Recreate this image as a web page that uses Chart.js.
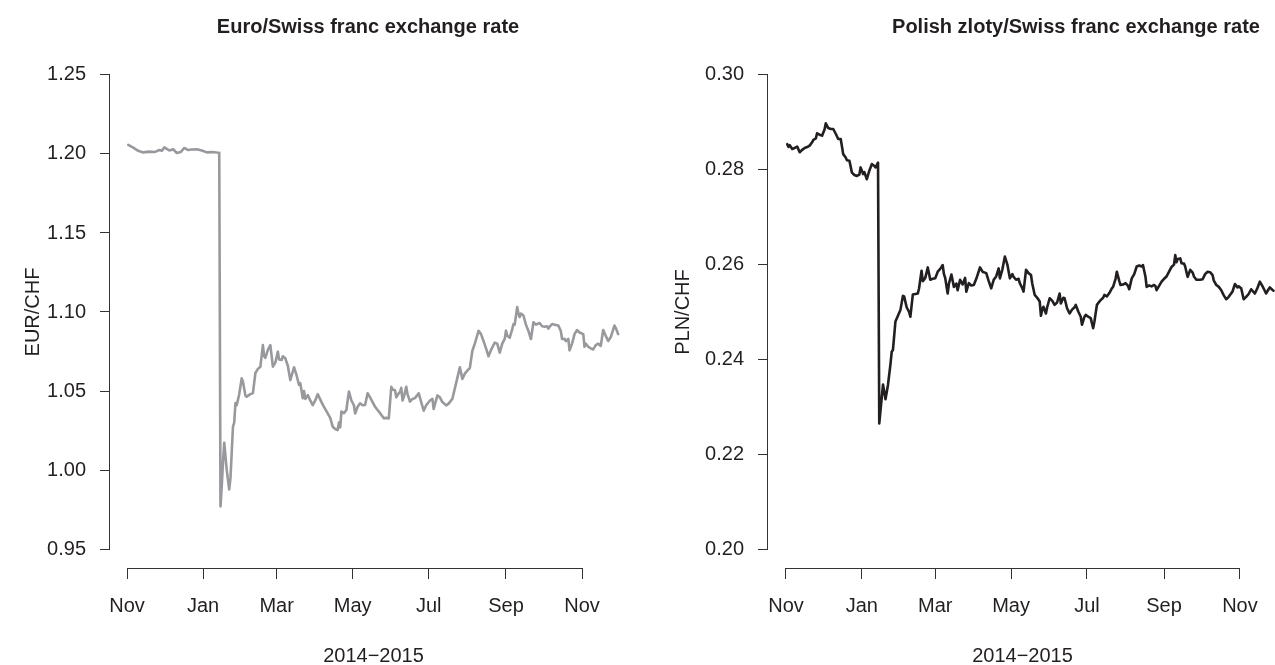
<!DOCTYPE html>
<html>
<head>
<meta charset="utf-8">
<script src="https://cdn.jsdelivr.net/npm/chart.js@4.4.0/dist/chart.umd.min.js"></script>
<style>
html,body{margin:0;padding:0;background:#fff;overflow:hidden;}
#wrap{position:relative;width:1275px;height:665px;overflow:hidden;}
canvas{position:absolute;top:0;}
</style>
</head>
<body>
<div id="wrap">
<canvas id="c1" width="640" height="665" style="left:0"></canvas>
<canvas id="c2" width="640" height="665" style="left:640px"></canvas>
</div>
<script>
// ---- data ----
// x values: days since 1 Nov 2014
const xTickDates = ['2014-11-01','2015-01-01','2015-03-01','2015-05-01','2015-07-01','2015-09-01','2015-11-01'];
const xTickLabels = ['Nov','Jan','Mar','May','Jul','Sep','Nov'];
const xTitle = '2014\u22122015';

const eurTitle = 'Euro/Swiss franc exchange rate';
const eurAxisTitle = 'EUR/CHF';
const eurTicks = [0.95, 1.00, 1.05, 1.10, 1.15, 1.20, 1.25];
const eurDays = [1,5,9,13,18,22,26,28,30,34,37,40,43,46,49,52,56,60,64,68,72,74,
  75,76,77,78,80,82,83,85,86,87,88,90,92,93,95,96,99,101,103,105,107,109,110,111,113,115,117,119,121,122,124,125,127,129,131,134,136,138,139,141,142,143,145,147,149,151,153,156,158,161,163,165,167,169,170,171,172,174,176,177,178,180,182,183,185,187,189,191,193,195,197,199,201,203,206,208,210,212,213,215,216,218,219,220,221,222,224,225,227,229,231,234,236,238,240,243,245,246,249,251,253,256,258,261,264,267,269,271,273,275,277,279,282,284,286,288,290,292,295,297,299,301,303,304,305,307,309,310,311,313,314,315,316,318,320,322,324,325,326,328,329,331,333,335,337,338,339,341,343,346,348,349,351,352,354,355,357,359,361,363,366,367,368,370,372,374,376,378,380,382,384,386,388,391,392,394];
const eurValues = [1.2057,1.2040,1.2020,1.2010,1.2015,1.2012,1.2025,1.2020,1.2042,1.2022,1.2030,1.2006,1.2012,1.2038,1.2025,1.2028,1.2030,1.2022,1.2010,1.2012,1.2009,1.2008,
  0.977,0.990,1.005,1.0173,1.000,0.9877,0.995,1.0274,1.030,1.0424,1.041,1.048,1.058,1.056,1.047,1.0464,1.048,1.0487,1.0614,1.064,1.0654,1.0791,1.072,1.071,1.076,1.079,1.0654,1.068,1.0749,1.070,1.0696,1.072,1.0707,1.066,1.0569,1.065,1.060,1.0538,1.055,1.0454,1.050,1.045,1.0474,1.044,1.0411,1.044,1.048,1.043,1.040,1.0358,1.033,1.0274,1.026,1.0253,1.030,1.027,1.037,1.036,1.038,1.044,1.0496,1.044,1.041,1.0358,1.040,1.0422,1.041,1.0411,1.0486,1.046,1.043,1.040,1.038,1.036,1.0327,1.033,1.0327,1.0527,1.051,1.0505,1.046,1.0486,1.0493,1.052,1.044,1.046,1.0527,1.048,1.0433,1.045,1.0455,1.0486,1.043,1.0376,1.041,1.044,1.045,1.0386,1.0472,1.046,1.043,1.0409,1.042,1.0451,1.055,1.065,1.0576,1.061,1.063,1.0645,1.0753,1.080,1.0881,1.086,1.0816,1.077,1.072,1.076,1.0806,1.080,1.0742,1.080,1.083,1.0882,1.085,1.0838,1.089,1.0924,1.092,1.1031,1.099,1.0968,1.099,1.0978,1.092,1.088,1.0829,1.088,1.0935,1.092,1.0924,1.093,1.091,1.0907,1.091,1.0895,1.0907,1.0924,1.092,1.0914,1.088,1.0829,1.083,1.0816,1.083,1.0757,1.080,1.086,1.0886,1.087,1.086,1.078,1.080,1.078,1.077,1.0763,1.079,1.080,1.0785,1.0886,1.085,1.0816,1.084,1.0914,1.090,1.086];

const plnTitle = 'Polish zloty/Swiss franc exchange rate';
const plnAxisTitle = 'PLN/CHF';
const plnTicks = [0.20, 0.22, 0.24, 0.26, 0.28, 0.30];
const plnDays = [1,2,3,5,7,9,11,13,15,17,19,21,22,24,25,27,29,31,32,34,36,38,40,42,44,46,48,49,51,53,55,57,59,60,61,62,63,65,67,69,71,72,74,
  75,77,78,80,82,84,85,86,88,90,92,94,95,97,99,100,102,104,106,107,109,110,112,114,116,118,120,122,124,126,127,128,130,131,133,135,137,138,140,142,144,145,147,149,151,153,156,158,161,163,165,167,169,171,172,174,176,178,180,182,183,185,187,188,190,191,193,195,197,198,200,202,204,205,206,207,209,210,212,214,216,218,220,221,223,224,226,228,230,232,233,235,237,238,240,241,243,245,247,248,250,252,253,255,256,258,260,262,263,265,266,268,269,271,273,275,276,278,280,282,284,286,287,289,290,292,294,296,297,298,300,302,304,306,308,310,312,313,314,315,317,318,320,321,322,323,325,327,328,330,333,335,337,339,341,343,344,346,348,350,352,354,356,357,359,361,363,364,366,368,370,372,374,376,377,379,381,383,384,386,388,389,391,392];
const plnValues = [0.2854,0.2848,0.2852,0.2844,0.2846,0.2849,0.2837,0.2842,0.2846,0.2848,0.2851,0.2858,0.2863,0.2866,0.2877,0.2874,0.2872,0.2885,0.2898,0.2888,0.2886,0.2886,0.2876,0.2865,0.2865,0.2833,0.2826,0.2820,0.2819,0.2794,0.2789,0.2787,0.2790,0.2805,0.2798,0.2791,0.2795,0.2780,0.2798,0.2812,0.2808,0.2805,0.2815,
  0.2265,0.2320,0.2347,0.2316,0.2346,0.2390,0.2416,0.2420,0.2480,0.2492,0.2504,0.2534,0.2533,0.2510,0.2500,0.2490,0.2537,0.2538,0.2539,0.2550,0.2587,0.2565,0.2572,0.2594,0.2568,0.2570,0.2571,0.2585,0.2591,0.2599,0.2580,0.2572,0.2539,0.2560,0.2579,0.2553,0.2560,0.2546,0.2568,0.2558,0.2572,0.2543,0.2561,0.2556,0.2557,0.2570,0.2594,0.2585,0.2582,0.2565,0.2550,0.2568,0.2575,0.2592,0.2571,0.2590,0.2617,0.2600,0.2571,0.2580,0.2574,0.2568,0.2570,0.2561,0.2550,0.2543,0.2589,0.2582,0.2578,0.2560,0.2536,0.2530,0.2522,0.2492,0.2505,0.2511,0.2497,0.2510,0.2529,0.2524,0.2515,0.2520,0.2539,0.2518,0.2530,0.2529,0.2508,0.2497,0.2505,0.2510,0.2515,0.2501,0.2490,0.2473,0.2490,0.2494,0.2490,0.2487,0.2466,0.2480,0.2515,0.2522,0.2525,0.2530,0.2536,0.2533,0.2540,0.2550,0.2553,0.2570,0.2585,0.2565,0.2557,0.2558,0.2561,0.2555,0.2548,0.2571,0.2580,0.2596,0.2598,0.2596,0.2599,0.2575,0.2553,0.2556,0.2554,0.2557,0.2555,0.2546,0.2555,0.2564,0.2570,0.2575,0.2585,0.2595,0.2600,0.2620,0.2605,0.2612,0.2613,0.2603,0.2602,0.2596,0.2584,0.2574,0.2589,0.2583,0.2575,0.2568,0.2568,0.2569,0.2580,0.2585,0.2584,0.2578,0.2566,0.2557,0.2553,0.2546,0.2535,0.2527,0.2532,0.2536,0.2543,0.2559,0.2552,0.2554,0.2550,0.2527,0.2532,0.2538,0.2548,0.2542,0.2539,0.2550,0.2564,0.2555,0.2550,0.2539,0.2548,0.2552,0.2547,0.2545];

// ---- helpers ----
const EPOCH = Date.UTC(2014, 10, 1);
function dayOf(s) { const p = s.split('-').map(Number); return (Date.UTC(p[0], p[1]-1, p[2]) - EPOCH) / 86400000; }
const xTickDays = xTickDates.map(dayOf);

const FONT = "'Liberation Sans', Arial, Helvetica, sans-serif";
const TXT = '#231f20';
const AXIS = '#333333';

const rStyle = {
  id: 'rStyle',
  afterDraw(chart, args, o) {
    const ctx = chart.ctx, xs = chart.scales.x, ys = chart.scales.y, ca = chart.chartArea;
    ctx.save();
    ctx.strokeStyle = AXIS; ctx.lineWidth = 1;
    ctx.beginPath();
    const yb = Math.round(ca.bottom) + 0.5;
    ctx.moveTo(xs.getPixelForValue(xTickDays[0]), yb);
    ctx.lineTo(xs.getPixelForValue(xTickDays[xTickDays.length-1]), yb);
    const xl = Math.round(ca.left) - 0.5;
    ctx.moveTo(xl, ys.getPixelForValue(o.ticks[0]));
    ctx.lineTo(xl, ys.getPixelForValue(o.ticks[o.ticks.length-1]));
    ctx.stroke();
    ctx.fillStyle = TXT;
    ctx.font = 'bold ' + o.titleSize + 'px ' + FONT;
    ctx.textAlign = 'center'; ctx.textBaseline = 'middle';
    ctx.fillText(o.title, o.titleX, o.titleY);
    ctx.restore();
  }
};

function panel(id, o) {
  return new Chart(document.getElementById(id), {
    type: 'line',
    data: { datasets: [{
      data: o.days.map((d, i) => ({ x: d, y: o.values[i] })),
      borderColor: o.color, borderWidth: 2.6, pointRadius: 0, tension: 0, fill: false,
      borderJoinStyle: 'round', borderCapStyle: 'round'
    }] },
    options: {
      responsive: false, animation: false, devicePixelRatio: 1,
      layout: { padding: { top: 56, left: 0, right: 3, bottom: 0 } },
      plugins: {
        legend: { display: false }, tooltip: { enabled: false }, title: { display: false },
        rStyle: { ticks: o.ticks, title: o.title, titleX: o.titleX, titleY: 27, titleSize: 20 }
      },
      scales: {
        x: {
          type: 'linear', min: o.xMin, max: o.xMax,
          afterBuildTicks: s => { s.ticks = xTickDays.map(v => ({ value: v })); },
          afterFit: s => { s.height = 97; },
          ticks: { autoSkip: false, maxRotation: 0, minRotation: 0, padding: 15, color: TXT,
                   font: { family: FONT, size: 20 }, callback: (v, i) => xTickLabels[i] },
          grid: { drawOnChartArea: false, drawTicks: true, tickLength: 11, color: AXIS, lineWidth: 1 },
          border: { display: false },
          title: { display: true, text: xTitle, color: TXT, font: { family: FONT, size: 20 }, padding: { top: 0, bottom: -3 } }
        },
        y: {
          type: 'linear', min: o.yMin, max: o.yMax,
          afterBuildTicks: s => { s.ticks = o.ticks.map(v => ({ value: v })); },
          afterFit: s => { s.width = o.yWidth; },
          ticks: { padding: 14, color: TXT, font: { family: FONT, size: 20 }, callback: v => v.toFixed(2) },
          grid: { drawOnChartArea: false, drawTicks: true, tickLength: 10, color: AXIS, lineWidth: 1 },
          border: { display: false },
          title: { display: true, text: o.yTitle, color: TXT, font: { family: FONT, size: 20 }, padding: { top: o.yTitlePad, bottom: 0 } }
        }
      }
    },
    plugins: [rStyle]
  });
}

panel('c1', {
  days: eurDays, values: eurValues, color: '#98999d', ticks: eurTicks,
  yMin: 0.938, yMax: 1.262, xMin: -13.64, xMax: 409.1, yWidth: 110,
  yTitle: eurAxisTitle, yTitlePad: 21, title: eurTitle, titleX: 368
});
panel('c2', {
  days: plnDays, values: plnValues, color: '#231f20', ticks: plnTicks,
  yMin: 0.196, yMax: 0.304, xMin: -14.47, xMax: 394.8, yWidth: 128,
  yTitle: plnAxisTitle, yTitlePad: 31, title: plnTitle, titleX: 436
});
</script>
</body>
</html>
